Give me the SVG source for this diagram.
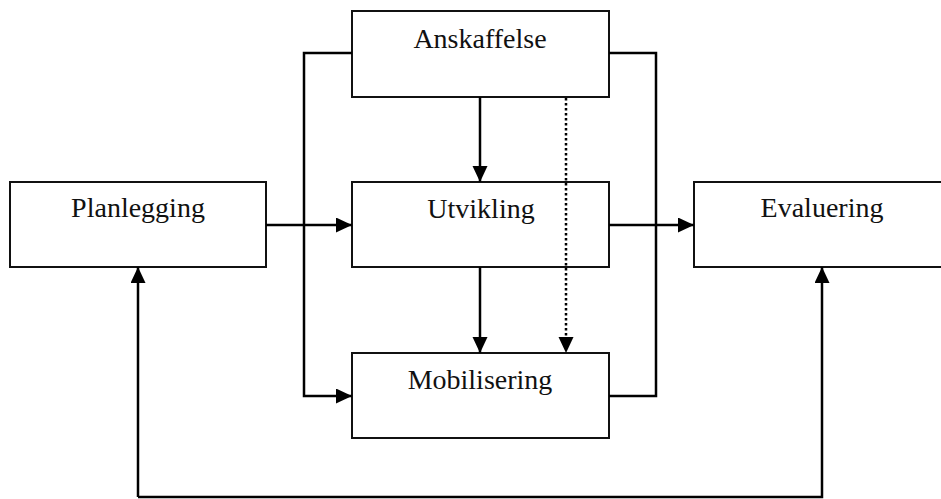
<svg xmlns="http://www.w3.org/2000/svg" width="941" height="499" viewBox="0 0 941 499">
  <style>
    .box { fill: #ffffff; stroke: #111111; stroke-width: 2; }
    .label { font-family: "Liberation Serif", "Times New Roman", serif; font-size: 28px; fill: #111111; text-anchor: middle; }
    .wire { fill: none; stroke: #000000; stroke-width: 2.5; }
    .dotted { fill: none; stroke: #000000; stroke-width: 2.5; stroke-dasharray: 2.5 2.5; }
  </style>
  <defs>
    <marker id="arrow" markerUnits="userSpaceOnUse" markerWidth="16" markerHeight="16" refX="16" refY="7.5" orient="auto">
      <path d="M0,0 L16,7.5 L0,15 z" fill="#000000"/>
    </marker>
  </defs>

  <g id="anskaffelse">
    <rect class="box" x="352" y="11" width="257" height="86"/>
    <text class="label" x="480" y="48">Anskaffelse</text>
  </g>
  <g id="planlegging">
    <rect class="box" x="10" y="182" width="256" height="85"/>
    <text class="label" x="138" y="217">Planlegging</text>
  </g>
  <g id="utvikling">
    <rect class="box" x="352" y="182" width="257" height="85"/>
    <text class="label" x="481" y="218">Utvikling</text>
  </g>
  <g id="evaluering">
    <rect class="box" x="694" y="182" width="260" height="85"/>
    <text class="label" x="822" y="217">Evaluering</text>
  </g>
  <g id="mobilisering">
    <rect class="box" x="352" y="353" width="257" height="85"/>
    <text class="label" x="480" y="389">Mobilisering</text>
  </g>

  <!-- connectors, drawn over the boxes so the dotted line shows through Utvikling -->
  <g id="connectors">
    <!-- Planlegging -> Utvikling -->
    <path class="wire" d="M266,225 H352" marker-end="url(#arrow)"/>
    <!-- Utvikling -> Evaluering -->
    <path class="wire" d="M609,225 H694" marker-end="url(#arrow)"/>
    <!-- Anskaffelse -> Utvikling -->
    <path class="wire" d="M480,97 V182" marker-end="url(#arrow)"/>
    <!-- Utvikling -> Mobilisering -->
    <path class="wire" d="M480,267 V353" marker-end="url(#arrow)"/>
    <!-- Anskaffelse -> Mobilisering (dotted) -->
    <path class="dotted" d="M566,98 V339"/>
    <path class="wire" d="M566,339 V353" marker-end="url(#arrow)" stroke-opacity="0"/>
    <!-- Anskaffelse -> Mobilisering around the left side -->
    <path class="wire" d="M352,53 H304 V396 H352" marker-end="url(#arrow)"/>
    <!-- Anskaffelse to Mobilisering around the right side -->
    <path class="wire" d="M609,53 H656 V396 H609"/>
    <!-- feedback loop between Planlegging and Evaluering -->
    <path class="wire" d="M138,497 V267" marker-end="url(#arrow)"/>
    <path class="wire" d="M138,497 H822 V267" marker-end="url(#arrow)"/>
  </g>
</svg>
